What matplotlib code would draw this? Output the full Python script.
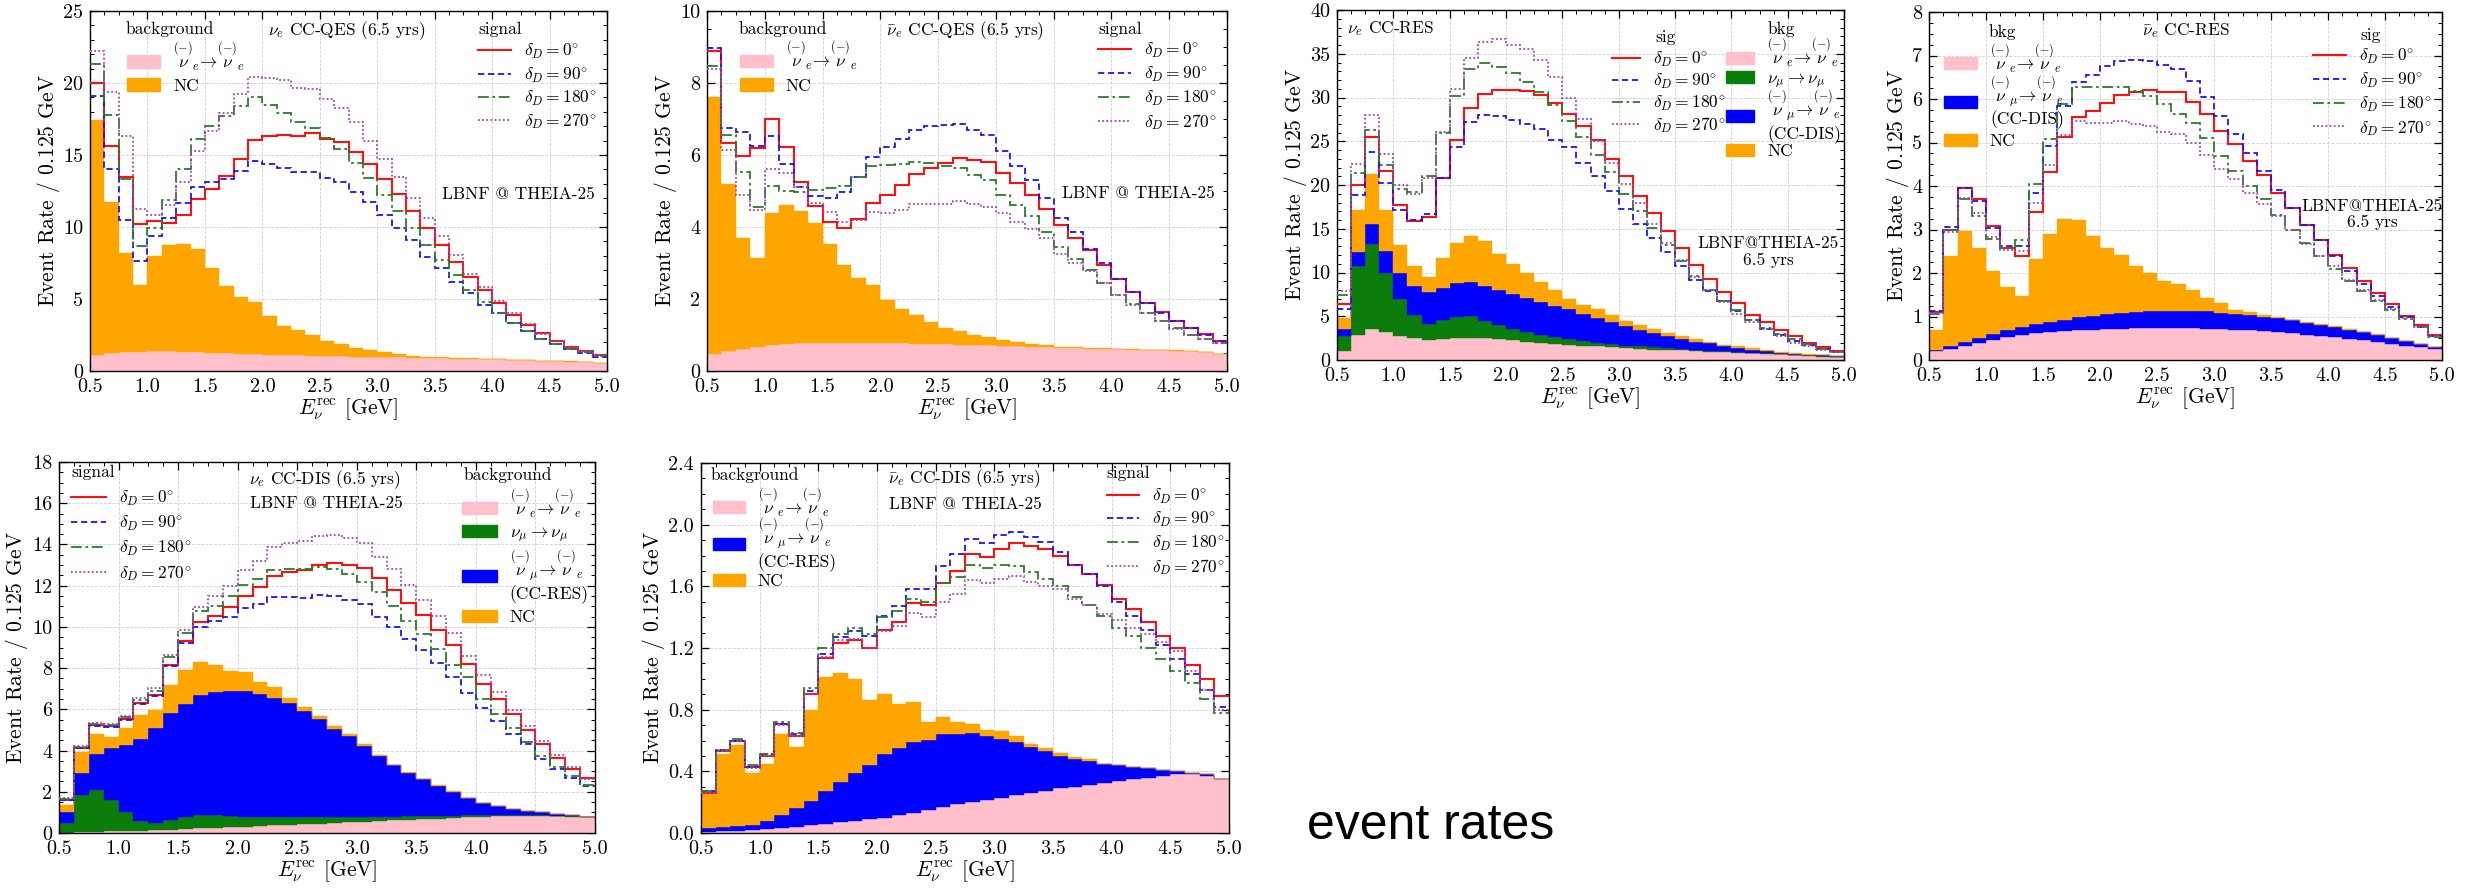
import numpy as np
import matplotlib
matplotlib.use("Agg")
import matplotlib.pyplot as plt
from matplotlib.legend import Legend
from matplotlib.patches import Patch
from matplotlib.lines import Line2D
from matplotlib.ticker import MultipleLocator, FormatStrFormatter

plt.rcParams['font.family'] = ['cmr10', 'DejaVu Serif']
plt.rcParams['mathtext.fontset'] = 'cm'
plt.rcParams['axes.formatter.use_mathtext'] = True
plt.rcParams['axes.unicode_minus'] = False

bin_edges = np.linspace(0.5, 5.0, 37)

# ---------------- Panel 1: nu_e CC-QES ----------------
p1_sig0 = [20.0, 15.6, 13.5, 10.2, 10.4, 10.3, 10.8, 11.95, 12.65, 13.55, 14.75, 16.05, 16.3, 16.4, 16.35, 16.5, 16.1, 15.9, 15.2, 14.35, 13.3, 12.3, 11.1, 9.9, 8.75, 7.6, 6.55, 5.6, 4.7, 3.9, 3.2, 2.65, 2.1, 1.7, 1.4, 1.1]
p1_sig90 = [19.1, 14.0, 10.5, 7.65, 9.4, 10.65, 11.7, 12.8, 13.1, 13.3, 13.9, 14.6, 14.4, 14.1, 13.85, 13.85, 13.4, 13.15, 12.45, 11.75, 10.85, 9.9, 9.1, 7.95, 7.15, 6.2, 5.4, 4.6, 4.0, 3.3, 2.75, 2.25, 1.9, 1.5, 1.25, 1.0]
p1_sig180 = [21.3, 17.75, 13.3, 8.7, 9.9, 11.85, 14.0, 16.1, 17.0, 17.7, 18.4, 19.0, 18.5, 17.95, 17.3, 16.9, 16.2, 15.45, 14.45, 13.4, 12.2, 11.1, 9.9, 8.75, 7.7, 6.65, 5.6, 4.8, 4.0, 3.3, 2.75, 2.25, 1.9, 1.55, 1.35, 1.05]
p1_sig270 = [22.2, 19.35, 16.3, 11.25, 10.85, 11.5, 13.1, 15.25, 16.7, 17.9, 19.25, 20.4, 20.35, 20.2, 19.65, 19.6, 18.9, 18.25, 17.3, 16.0, 14.7, 13.5, 12.0, 10.6, 9.4, 8.05, 6.75, 5.8, 4.85, 4.0, 3.25, 2.6, 2.1, 1.7, 1.4, 1.1]
p1_bkg_ee = [1.1, 1.23, 1.3, 1.34, 1.38, 1.38, 1.35, 1.3, 1.25, 1.22, 1.18, 1.15, 1.1, 1.1, 1.08, 1.06, 1.04, 1.02, 1.0, 0.98, 0.96, 0.94, 0.92, 0.9, 0.88, 0.86, 0.84, 0.82, 0.8, 0.77, 0.74, 0.71, 0.68, 0.65, 0.6, 0.55]
p1_bkg_nc = [16.3, 10.5, 6.9, 4.65, 6.6, 7.4, 7.45, 7.2, 5.9, 4.7, 3.95, 3.65, 2.75, 2.0, 1.77, 1.44, 1.06, 0.88, 0.6, 0.47, 0.34, 0.21, 0.15, 0.1, 0.07, 0.04, 0.03, 0.02, 0.01, 0.01, 0.01, 0.01, 0.01, 0.01, 0.01, 0.01]

# ---------------- Panel 2: anti-nu_e CC-QES ----------------
p2_sig0 = [8.9, 6.32, 5.97, 6.19, 7.0, 6.23, 5.24, 4.59, 4.15, 3.98, 4.21, 4.68, 4.9, 5.17, 5.46, 5.65, 5.78, 5.92, 5.87, 5.8, 5.5, 5.22, 4.9, 4.5, 4.05, 3.7, 3.35, 2.95, 2.55, 2.2, 1.9, 1.65, 1.4, 1.2, 1.02, 0.83]
p2_sig90 = [8.96, 6.76, 6.65, 6.25, 6.54, 5.75, 5.1, 4.86, 4.81, 4.98, 5.4, 5.95, 6.21, 6.44, 6.69, 6.8, 6.82, 6.85, 6.7, 6.55, 6.1, 5.7, 5.3, 4.8, 4.25, 3.85, 3.4, 3.0, 2.55, 2.2, 1.9, 1.62, 1.4, 1.2, 1.0, 0.82]
p2_sig180 = [8.47, 6.56, 5.54, 4.56, 5.15, 5.0, 4.98, 5.03, 5.08, 5.15, 5.4, 5.7, 5.72, 5.75, 5.8, 5.77, 5.7, 5.65, 5.45, 5.3, 4.9, 4.6, 4.3, 3.85, 3.45, 3.12, 2.8, 2.45, 2.1, 1.85, 1.6, 1.4, 1.2, 1.0, 0.9, 0.78]
p2_sig270 = [8.4, 6.14, 4.89, 4.47, 5.6, 5.5, 5.12, 4.68, 4.43, 4.15, 4.2, 4.43, 4.38, 4.47, 4.63, 4.65, 4.65, 4.72, 4.65, 4.55, 4.4, 4.15, 3.95, 3.7, 3.25, 3.0, 2.78, 2.45, 2.1, 1.82, 1.6, 1.4, 1.18, 1.0, 0.9, 0.77]
p2_bkg_ee = [0.46, 0.55, 0.62, 0.67, 0.71, 0.75, 0.78, 0.79, 0.79, 0.79, 0.78, 0.78, 0.78, 0.77, 0.76, 0.75, 0.74, 0.73, 0.72, 0.71, 0.7, 0.69, 0.68, 0.66, 0.65, 0.63, 0.62, 0.61, 0.6, 0.59, 0.58, 0.57, 0.56, 0.55, 0.52, 0.47]
p2_bkg_nc = [7.16, 4.65, 3.08, 2.48, 3.69, 3.85, 3.66, 3.31, 2.74, 2.15, 1.79, 1.62, 1.19, 0.94, 0.79, 0.6, 0.46, 0.37, 0.28, 0.24, 0.15, 0.11, 0.07, 0.05, 0.03, 0.03, 0.02, 0.02, 0.02, 0.02, 0.01, 0.01, 0.01, 0.01, 0.01, 0.01]

# ---------------- Panel 3: nu_e CC-RES ----------------
p3_sig0 = [6.4, 20.0, 25.5, 21.6, 17.7, 15.9, 16.4, 20.8, 25.2, 28.8, 30.4, 30.9, 30.9, 30.8, 30.3, 29.4, 28.1, 26.7, 25.1, 23.0, 21.0, 18.7, 16.8, 14.8, 12.8, 10.9, 9.3, 7.8, 6.5, 5.2, 4.3, 3.4, 2.7, 2.0, 1.5, 1.0]
p3_sig90 = [5.8, 18.9, 23.8, 20.2, 17.2, 16.0, 16.7, 20.8, 24.4, 27.2, 28.0, 27.9, 27.4, 27.0, 26.4, 25.2, 24.4, 22.5, 21.0, 19.3, 17.3, 15.5, 14.0, 12.3, 10.7, 9.1, 7.9, 6.7, 5.6, 4.6, 3.6, 2.9, 2.2, 1.7, 1.3, 0.9]
p3_sig180 = [7.4, 21.4, 26.3, 22.3, 19.5, 19.2, 21.0, 26.0, 30.2, 33.3, 34.0, 33.5, 32.8, 31.8, 30.6, 29.2, 27.3, 25.5, 23.4, 21.5, 19.0, 17.0, 15.1, 13.2, 11.3, 9.6, 8.0, 6.8, 5.7, 4.6, 3.7, 3.0, 2.4, 1.8, 1.3, 0.9]
p3_sig270 = [7.9, 22.4, 28.0, 23.6, 20.0, 19.0, 20.8, 26.1, 31.0, 34.5, 36.3, 36.7, 36.0, 35.5, 34.3, 32.3, 30.0, 27.6, 25.0, 22.5, 20.1, 17.9, 15.6, 13.4, 11.4, 9.5, 8.0, 6.6, 5.3, 4.3, 3.5, 2.8, 2.0, 1.6, 1.2, 0.9]
p3_bkg_ee = [1.0, 2.9, 3.6, 3.2, 2.8, 2.5, 2.3, 2.35, 2.5, 2.55, 2.5, 2.4, 2.25, 2.1, 1.95, 1.85, 1.75, 1.65, 1.55, 1.45, 1.35, 1.3, 1.2, 1.15, 1.1, 1.0, 0.95, 0.9, 0.85, 0.75, 0.7, 0.65, 0.55, 0.5, 0.4, 0.3]
p3_bkg_mm = [1.7, 7.9, 9.7, 6.7, 4.2, 2.7, 1.8, 2.25, 2.4, 2.45, 2.0, 1.6, 1.35, 1.1, 0.9, 0.75, 0.6, 0.5, 0.4, 0.35, 0.3, 0.25, 0.25, 0.2, 0.15, 0.15, 0.13, 0.1, 0.08, 0.08, 0.07, 0.05, 0.05, 0.04, 0.04, 0.03]
p3_bkg_me = [0.9, 1.6, 2.2, 2.6, 2.9, 3.3, 3.7, 3.6, 3.9, 3.9, 4.0, 4.0, 3.9, 3.85, 3.75, 3.6, 3.45, 3.15, 2.85, 2.5, 2.25, 1.85, 1.65, 1.35, 1.15, 0.95, 0.82, 0.6, 0.47, 0.37, 0.23, 0.15, 0.12, 0.08, 0.08, 0.09]
p3_bkg_nc = [1.2, 4.7, 5.8, 4.6, 3.3, 2.2, 1.7, 3.5, 4.6, 5.3, 5.1, 4.1, 3.45, 2.95, 2.3, 1.8, 1.2, 1.0, 1.0, 0.9, 0.6, 0.6, 0.4, 0.4, 0.3, 0.25, 0.2, 0.15, 0.15, 0.15, 0.15, 0.1, 0.06, 0.03, 0.03, 0.05]

# ---------------- Panel 4: anti-nu_e CC-RES ----------------
p4_sig0 = [1.1, 3.0, 3.95, 3.7, 3.07, 2.57, 2.38, 3.41, 4.33, 5.12, 5.58, 5.72, 5.9, 6.1, 6.15, 6.2, 6.15, 6.15, 5.93, 5.65, 5.27, 4.97, 4.57, 4.25, 3.85, 3.5, 3.1, 2.75, 2.42, 2.12, 1.82, 1.55, 1.28, 1.02, 0.8, 0.58]
p4_sig90 = [1.12, 3.05, 3.95, 3.65, 3.03, 2.62, 2.63, 3.85, 4.93, 5.83, 6.38, 6.55, 6.75, 6.87, 6.9, 6.87, 6.78, 6.7, 6.42, 6.05, 5.6, 5.2, 4.75, 4.35, 3.9, 3.5, 3.1, 2.75, 2.4, 2.05, 1.75, 1.48, 1.22, 0.98, 0.77, 0.55]
p4_sig180 = [1.05, 3.0, 3.7, 3.3, 2.78, 2.58, 2.75, 4.05, 5.08, 5.88, 6.28, 6.27, 6.28, 6.27, 6.18, 6.07, 5.88, 5.65, 5.45, 5.1, 4.7, 4.35, 4.0, 3.7, 3.33, 3.0, 2.68, 2.38, 2.1, 1.82, 1.58, 1.35, 1.15, 0.95, 0.75, 0.52]
p4_sig270 = [1.08, 2.95, 3.72, 3.37, 2.82, 2.53, 2.5, 3.6, 4.48, 5.17, 5.5, 5.45, 5.45, 5.5, 5.43, 5.38, 5.25, 5.2, 4.98, 4.72, 4.4, 4.15, 3.83, 3.58, 3.3, 2.98, 2.67, 2.38, 2.15, 1.85, 1.6, 1.38, 1.18, 0.97, 0.75, 0.55]
p4_bkg_ee = [0.2, 0.26, 0.33, 0.4, 0.46, 0.52, 0.57, 0.61, 0.64, 0.67, 0.69, 0.7, 0.71, 0.72, 0.73, 0.73, 0.73, 0.73, 0.73, 0.72, 0.71, 0.7, 0.68, 0.66, 0.64, 0.61, 0.58, 0.55, 0.52, 0.48, 0.45, 0.41, 0.37, 0.33, 0.29, 0.26]
p4_bkg_me = [0.02, 0.06, 0.08, 0.1, 0.13, 0.16, 0.19, 0.21, 0.24, 0.26, 0.29, 0.32, 0.35, 0.37, 0.38, 0.39, 0.4, 0.4, 0.4, 0.4, 0.38, 0.36, 0.35, 0.34, 0.32, 0.3, 0.28, 0.26, 0.24, 0.22, 0.19, 0.17, 0.14, 0.11, 0.08, 0.04]
p4_bkg_nc = [0.48, 2.07, 2.56, 2.07, 1.46, 0.99, 0.72, 1.5, 2.02, 2.3, 2.24, 1.83, 1.52, 1.32, 1.04, 0.88, 0.69, 0.62, 0.47, 0.31, 0.21, 0.08, 0.07, 0.04, 0.03, 0.02, 0.02, 0.02, 0.02, 0.01, 0.01, 0.01, 0.0, 0.0, 0.0, 0.0]

# ---------------- Panel 5: nu_e CC-DIS ----------------
p5_sig0 = [1.62, 4.12, 5.25, 5.17, 5.54, 6.33, 6.7, 8.16, 9.3, 10.25, 10.55, 10.95, 11.5, 11.95, 12.45, 12.65, 12.75, 13.0, 13.08, 13.0, 12.85, 12.35, 11.8, 11.15, 10.6, 9.85, 9.1, 8.2, 7.25, 6.5, 5.75, 5.0, 4.3, 3.65, 3.1, 2.65]
p5_sig90 = [1.6, 4.1, 5.2, 5.12, 5.5, 6.28, 6.65, 8.12, 9.2, 10.0, 10.3, 10.5, 10.9, 11.1, 11.45, 11.45, 11.42, 11.55, 11.5, 11.3, 11.1, 10.5, 10.0, 9.4, 8.9, 8.25, 7.55, 6.8, 6.05, 5.45, 4.8, 4.3, 3.6, 3.1, 2.65, 2.3]
p5_sig180 = [1.65, 4.15, 5.3, 5.25, 5.65, 6.45, 6.9, 8.55, 9.7, 10.75, 11.0, 11.5, 12.05, 12.3, 12.75, 12.8, 12.8, 12.9, 12.8, 12.55, 12.2, 11.7, 11.0, 10.3, 9.65, 8.95, 8.15, 7.55, 6.5, 5.75, 5.1, 4.4, 3.75, 3.2, 2.75, 2.35]
p5_sig270 = [1.7, 4.2, 5.35, 5.3, 5.7, 6.55, 7.05, 8.65, 9.85, 10.95, 11.5, 12.0, 12.75, 13.2, 13.9, 14.05, 14.15, 14.4, 14.45, 14.3, 14.05, 13.4, 12.8, 12.05, 11.3, 10.55, 9.7, 8.6, 7.65, 6.85, 5.95, 5.2, 4.45, 3.8, 3.2, 2.6]
p5_bkg_ee = [0.02, 0.04, 0.06, 0.08, 0.1, 0.12, 0.14, 0.16, 0.19, 0.22, 0.25, 0.28, 0.31, 0.34, 0.37, 0.4, 0.43, 0.46, 0.49, 0.52, 0.55, 0.58, 0.61, 0.64, 0.67, 0.7, 0.73, 0.76, 0.79, 0.81, 0.83, 0.84, 0.84, 0.83, 0.8, 0.76]
p5_bkg_mm = [0.48, 1.82, 2.04, 1.54, 0.9, 0.48, 0.34, 0.49, 0.59, 0.64, 0.61, 0.53, 0.47, 0.45, 0.43, 0.4, 0.37, 0.34, 0.31, 0.28, 0.25, 0.22, 0.19, 0.17, 0.15, 0.13, 0.11, 0.09, 0.07, 0.05, 0.03, 0.02, 0.01, 0.01, 0.01, 0.01]
p5_bkg_me = [0.52, 1.04, 1.75, 2.5, 3.28, 3.97, 4.61, 5.17, 5.47, 5.84, 5.96, 6.06, 6.13, 5.95, 5.74, 5.5, 5.1, 4.75, 4.25, 3.9, 3.4, 2.95, 2.5, 2.09, 1.78, 1.47, 1.16, 0.85, 0.59, 0.44, 0.29, 0.19, 0.15, 0.08, 0.04, 0.01]
p5_bkg_nc = [0.32, 1.03, 0.95, 0.56, 0.81, 1.16, 0.89, 1.37, 1.67, 1.62, 1.34, 0.97, 0.88, 0.61, 0.56, 0.25, 0.2, 0.15, 0.15, 0.1, 0.1, 0.05, 0.0, 0.05, 0.02, 0.02, 0.02, 0.02, 0.02, 0.01, 0.01, 0.01, 0.0, 0.0, 0.0, 0.0]

# ---------------- Panel 6: anti-nu_e CC-DIS ----------------
p6_sig0 = [0.26, 0.53, 0.6, 0.43, 0.5, 0.71, 0.63, 0.9, 1.135, 1.23, 1.25, 1.2, 1.32, 1.37, 1.49, 1.48, 1.62, 1.7, 1.81, 1.79, 1.84, 1.88, 1.86, 1.84, 1.8, 1.74, 1.68, 1.61, 1.52, 1.45, 1.37, 1.28, 1.2, 1.09, 1.0, 0.89]
p6_sig90 = [0.27, 0.54, 0.6, 0.43, 0.51, 0.71, 0.64, 0.92, 1.16, 1.27, 1.31, 1.28, 1.41, 1.47, 1.58, 1.58, 1.73, 1.81, 1.91, 1.88, 1.93, 1.95, 1.92, 1.89, 1.82, 1.74, 1.68, 1.6, 1.5, 1.41, 1.32, 1.22, 1.13, 1.03, 0.93, 0.82]
p6_sig180 = [0.27, 0.54, 0.61, 0.44, 0.51, 0.72, 0.65, 0.94, 1.2, 1.29, 1.33, 1.29, 1.4, 1.44, 1.52, 1.5, 1.62, 1.66, 1.74, 1.72, 1.74, 1.73, 1.69, 1.65, 1.6, 1.53, 1.48, 1.41, 1.33, 1.28, 1.2, 1.13, 1.05, 0.97, 0.87, 0.78]
p6_sig270 = [0.26, 0.53, 0.6, 0.42, 0.5, 0.7, 0.63, 0.9, 1.14, 1.25, 1.26, 1.2, 1.31, 1.34, 1.43, 1.4, 1.5, 1.55, 1.64, 1.62, 1.65, 1.67, 1.63, 1.6, 1.58, 1.52, 1.48, 1.42, 1.38, 1.33, 1.29, 1.24, 1.18, 1.05, 0.93, 0.8]
p6_bkg_ee = [0.005, 0.01, 0.015, 0.02, 0.025, 0.03, 0.04, 0.05, 0.06, 0.07, 0.08, 0.09, 0.1, 0.115, 0.13, 0.15, 0.17, 0.185, 0.2, 0.215, 0.23, 0.245, 0.26, 0.275, 0.29, 0.3, 0.31, 0.325, 0.34, 0.35, 0.36, 0.37, 0.38, 0.38, 0.37, 0.35]
p6_bkg_me = [0.025, 0.03, 0.03, 0.035, 0.05, 0.09, 0.12, 0.16, 0.21, 0.26, 0.31, 0.35, 0.41, 0.435, 0.46, 0.455, 0.47, 0.455, 0.45, 0.415, 0.38, 0.345, 0.3, 0.255, 0.21, 0.18, 0.16, 0.125, 0.1, 0.08, 0.06, 0.04, 0.02, 0.01, 0.01, 0.0]
p6_bkg_nc = [0.22, 0.47, 0.525, 0.335, 0.375, 0.52, 0.4, 0.59, 0.74, 0.71, 0.61, 0.425, 0.39, 0.29, 0.26, 0.115, 0.11, 0.08, 0.06, 0.04, 0.05, 0.04, 0.02, 0.02, 0.02, 0.01, 0.01, 0.0, 0.0, 0.0, 0.0, 0.0, 0.0, 0.0, 0.0, 0.0]

sig_labels = [r'$\delta_D = 0^{\circ}$', r'$\delta_D = 90^{\circ}$',
              r'$\delta_D = 180^{\circ}$', r'$\delta_D = 270^{\circ}$']
lab_ee = r'$\overset{(-)}{\nu}_{e}\!\rightarrow\!\overset{(-)}{\nu}_{e}$'
lab_mm = r'$\nu_\mu \rightarrow \nu_\mu$'
lab_me_dis = r'$\overset{(-)}{\nu}_{\mu}\!\rightarrow\!\overset{(-)}{\nu}_{e}$' + '\n(CC-DIS)'
lab_me_res = r'$\overset{(-)}{\nu}_{\mu}\!\rightarrow\!\overset{(-)}{\nu}_{e}$' + '\n(CC-RES)'
lab_nc = 'NC'

C_EE, C_MM, C_ME, C_NC = '#ffc0cb', '#0a7d0a', '#0000ff', '#ffa500'
SIG_STYLES = [dict(color='#ff1010', linestyle='-', linewidth=1.5),
              dict(color='#1515ff', linestyle=(0, (3.5, 2)), linewidth=1.3),
              dict(color='#2a7d2a', linestyle=(0, (6, 2, 1.5, 2)), linewidth=1.3),
              dict(color='#a542b5', linestyle=(0, (1, 1.3)), linewidth=1.3)]

W, H = 2466, 891
fig = plt.figure(figsize=(W / 100, H / 100), dpi=100)

FS_TICK = 14.5
FS_LEG = 12.5
FS_LAB = 15.5


def px_rect(x0, x1, y0, y1):
    return [x0 / W, 1 - y1 / H, (x1 - x0) / W, (y1 - y0) / H]


def make_panel(rect, bkgs, sigs, ylim, ymaj, ymin, yfmt):
    ax = fig.add_axes(rect)
    bottom = np.zeros(len(bin_edges) - 1)
    for vals, col in bkgs:
        top = bottom + np.asarray(vals, float)
        ax.stairs(top, bin_edges, baseline=bottom, fill=True, facecolor=col,
                  edgecolor=col, linewidth=0.3, zorder=1)
        bottom = top
    for vals, st in zip(sigs, SIG_STYLES):
        ax.stairs(vals, bin_edges, baseline=None, zorder=3, **st)
    ax.set_xlim(0.5, 5.0)
    ax.set_ylim(*ylim)
    ax.xaxis.set_major_locator(MultipleLocator(0.5))
    ax.xaxis.set_minor_locator(MultipleLocator(0.125))
    ax.yaxis.set_major_locator(MultipleLocator(ymaj))
    ax.yaxis.set_minor_locator(MultipleLocator(ymin))
    ax.xaxis.set_major_formatter(FormatStrFormatter('%.1f'))
    ax.yaxis.set_major_formatter(FormatStrFormatter(yfmt))
    ax.tick_params(which='both', direction='in', top=True, right=True, labelsize=FS_TICK)
    ax.tick_params(which='major', length=6, width=0.9)
    ax.tick_params(which='minor', length=3, width=0.7)
    ax.tick_params(axis='x', which='major', pad=5)
    ax.tick_params(axis='y', which='major', pad=5)
    ax.set_axisbelow(True)
    ax.grid(True, which='major', linestyle='--', linewidth=0.6, color='#d0d0d0')
    for s in ax.spines.values():
        s.set_linewidth(1.0)
    ax.set_xlabel(r'$E_\nu^{\rm rec}$ [GeV]', fontsize=FS_LAB, labelpad=0)
    ax.set_ylabel(r'Event Rate $/$ 0.125 GeV', fontsize=FS_LAB, labelpad=1)
    return ax


def entry(ax, handle, label, x, y, hl=1.9, pad=0.75):
    leg = Legend(ax, [handle], [label], loc='center left', bbox_to_anchor=(x, y),
                 bbox_transform=ax.transAxes, frameon=False, borderpad=0,
                 borderaxespad=0, handlelength=hl, handletextpad=pad,
                 fontsize=FS_LEG)
    ax.add_artist(leg)


def sig_handles():
    return [Line2D([], [], **st) for st in SIG_STYLES]


def txt(ax, x, y, s, ha='left', fs=FS_LEG):
    ax.text(x, y, s, transform=ax.transAxes, ha=ha, va='center', fontsize=fs)


# ---------- Panel 1 ----------
ax1 = make_panel(px_rect(90, 607, 11, 371),
                 [(p1_bkg_ee, C_EE), (p1_bkg_nc, C_NC)],
                 [p1_sig0, p1_sig90, p1_sig180, p1_sig270], (0, 25), 5, 1, '%d')
txt(ax1, 0.069, 0.949, 'background')
entry(ax1, Patch(color=C_EE), lab_ee, 0.072, 0.873)
entry(ax1, Patch(color=C_NC), lab_nc, 0.072, 0.792)
txt(ax1, 0.497, 0.946, r'$\nu_e$ CC-QES (6.5 yrs)', ha='center')
txt(ax1, 0.751, 0.95, 'signal')
for h, l, y in zip(sig_handles(), sig_labels, [0.887, 0.822, 0.757, 0.693]):
    entry(ax1, h, l, 0.751, y)
txt(ax1, 0.976, 0.49, 'LBNF @ THEIA-25', ha='right')

# ---------- Panel 2 ----------
ax2 = make_panel(px_rect(707, 1227, 11, 371),
                 [(p2_bkg_ee, C_EE), (p2_bkg_nc, C_NC)],
                 [p2_sig0, p2_sig90, p2_sig180, p2_sig270], (0, 10), 2, 0.5, '%d')
txt(ax2, 0.061, 0.949, 'background')
entry(ax2, Patch(color=C_EE), lab_ee, 0.063, 0.875)
entry(ax2, Patch(color=C_NC), lab_nc, 0.063, 0.792)
txt(ax2, 0.497, 0.946, r'$\bar{\nu}_e$ CC-QES (6.5 yrs)', ha='center')
txt(ax2, 0.752, 0.95, 'signal')
for h, l, y in zip(sig_handles(), sig_labels, [0.89, 0.825, 0.757, 0.692]):
    entry(ax2, h, l, 0.752, y)
txt(ax2, 0.977, 0.494, 'LBNF @ THEIA-25', ha='right')

# ---------- Panel 3 ----------
ax3 = make_panel(px_rect(1337, 1844, 10, 360),
                 [(p3_bkg_ee, C_EE), (p3_bkg_mm, C_MM), (p3_bkg_me, C_ME), (p3_bkg_nc, C_NC)],
                 [p3_sig0, p3_sig90, p3_sig180, p3_sig270], (0, 40), 5, 1, '%d')
txt(ax3, 0.02, 0.946, r'$\nu_e$ CC-RES')
txt(ax3, 0.628, 0.922, 'sig')
for h, l, y in zip(sig_handles(), sig_labels, [0.86, 0.797, 0.732, 0.672]):
    entry(ax3, h, l, 0.542, y, hl=1.65)
txt(ax3, 0.849, 0.945, 'bkg')
entry(ax3, Patch(color=C_EE), lab_ee, 0.768, 0.877, hl=1.6)
entry(ax3, Patch(color=C_MM), lab_mm, 0.768, 0.798, hl=1.6)
entry(ax3, Patch(color=C_ME), lab_me_dis, 0.768, 0.697, hl=1.6)
entry(ax3, Patch(color=C_NC), lab_nc, 0.768, 0.597, hl=1.6)
txt(ax3, 0.85, 0.333, 'LBNF@THEIA-25', ha='center')
txt(ax3, 0.85, 0.285, '6.5 yrs', ha='center')

# ---------- Panel 4 ----------
ax4 = make_panel(px_rect(1929, 2442, 12, 360),
                 [(p4_bkg_ee, C_EE), (p4_bkg_me, C_ME), (p4_bkg_nc, C_NC)],
                 [p4_sig0, p4_sig90, p4_sig180, p4_sig270], (0, 8), 1, 0.25, '%d')
txt(ax4, 0.116, 0.943, 'bkg')
entry(ax4, Patch(color=C_EE), lab_ee, 0.029, 0.866)
entry(ax4, Patch(color=C_ME), lab_me_dis, 0.029, 0.742)
entry(ax4, Patch(color=C_NC), lab_nc, 0.029, 0.628)
txt(ax4, 0.5, 0.946, r'$\bar{\nu}_e$ CC-RES', ha='center')
txt(ax4, 0.84, 0.934, 'sig')
for h, l, y in zip(sig_handles(), sig_labels, [0.872, 0.803, 0.735, 0.668]):
    entry(ax4, h, l, 0.749, y)
txt(ax4, 0.864, 0.442, 'LBNF@THEIA-25', ha='center')
txt(ax4, 0.864, 0.396, '6.5 yrs', ha='center')

# ---------- Panel 5 ----------
ax5 = make_panel(px_rect(59, 595, 462, 833),
                 [(p5_bkg_ee, C_EE), (p5_bkg_mm, C_MM), (p5_bkg_me, C_ME), (p5_bkg_nc, C_NC)],
                 [p5_sig0, p5_sig90, p5_sig180, p5_sig270], (0, 18), 2, 0.5, '%d')
txt(ax5, 0.023, 0.971, 'signal')
for h, l, y in zip(sig_handles(), sig_labels, [0.902, 0.834, 0.767, 0.7]):
    entry(ax5, h, l, 0.023, y, hl=2.0)
txt(ax5, 0.495, 0.953, r'$\nu_e$ CC-DIS (6.5 yrs)', ha='center')
txt(ax5, 0.499, 0.889, 'LBNF @ THEIA-25', ha='center')
txt(ax5, 0.754, 0.964, 'background')
entry(ax5, Patch(color=C_EE), lab_ee, 0.752, 0.889, hl=2.0)
entry(ax5, Patch(color=C_MM), lab_mm, 0.752, 0.804, hl=2.0)
entry(ax5, Patch(color=C_ME), lab_me_res, 0.752, 0.692, hl=2.0)
entry(ax5, Patch(color=C_NC), lab_nc, 0.752, 0.582, hl=2.0)

# ---------- Panel 6 ----------
ax6 = make_panel(px_rect(701, 1229, 463, 833),
                 [(p6_bkg_ee, C_EE), (p6_bkg_me, C_ME), (p6_bkg_nc, C_NC)],
                 [p6_sig0, p6_sig90, p6_sig180, p6_sig270], (0, 2.4), 0.4, 0.1, '%.1f')
txt(ax6, 0.019, 0.967, 'background')
entry(ax6, Patch(color=C_EE), lab_ee, 0.022, 0.893, hl=1.85)
entry(ax6, Patch(color=C_ME), lab_me_res, 0.022, 0.781, hl=1.85)
entry(ax6, Patch(color=C_NC), lab_nc, 0.022, 0.68, hl=1.85)
txt(ax6, 0.498, 0.958, r'$\bar{\nu}_e$ CC-DIS (6.5 yrs)', ha='center')
txt(ax6, 0.5, 0.889, 'LBNF @ THEIA-25', ha='center')
txt(ax6, 0.768, 0.973, 'signal')
for h, l, y in zip(sig_handles(), sig_labels, [0.91, 0.847, 0.783, 0.72]):
    entry(ax6, h, l, 0.769, y, hl=1.85)

fig.text(1431 / W, 1 - 826 / H, 'event rates', ha='center', va='center',
         fontsize=36, family=['Liberation Sans', 'DejaVu Sans'])

fig.savefig('out.png', dpi=100)
